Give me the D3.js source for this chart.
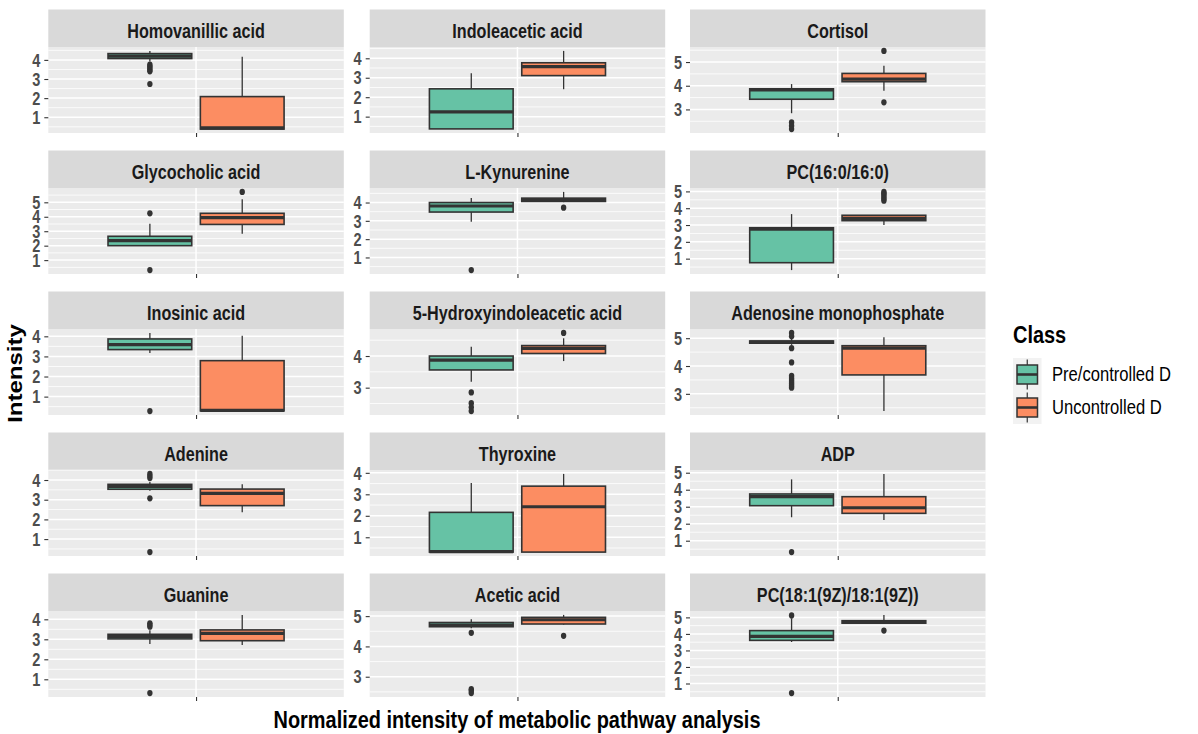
<!DOCTYPE html>
<html>
<head>
<meta charset="utf-8">
<script src="https://cdn.jsdelivr.net/npm/d3@7"></script>
<style>
  body { margin: 0; background: #ffffff; }
  svg { display: block; }
</style>
</head>
<body>
<svg id="chart" width="1198" height="734"></svg>
<script>
// Metabolites shown as facets (row by row)
const metabolites = [
  "Homovanillic acid", "Indoleacetic acid", "Cortisol",
  "Glycocholic acid", "L-Kynurenine", "PC(16:0/16:0)",
  "Inosinic acid", "5-Hydroxyindoleacetic acid", "Adenosine monophosphate",
  "Adenine", "Thyroxine", "ADP",
  "Guanine", "Acetic acid", "PC(18:1(9Z)/18:1(9Z))"
];

const classes = ["Pre/controlled D", "Uncontrolled D"];
const classColors = ["#66C2A5", "#FC8D62"];

// Box summaries per metabolite: [lower whisker, Q1, median, Q3, upper whisker]
const preStats = [
  [3.92, 4.07, 4.20, 4.33, 4.47],
  [0.36, 0.37, 1.25, 2.43, 3.23],
  [2.84, 3.43, 3.82, 3.87, 4.07],
  [1.97, 2.00, 2.35, 2.65, 3.52],
  [2.95, 3.48, 3.81, 4.00, 4.25],
  [0.32, 0.76, 2.76, 2.84, 3.65],
  [3.17, 3.34, 3.59, 3.87, 4.17],
  [3.19, 3.56, 3.87, 4.00, 4.29],
  [4.76, 4.82, 4.86, 4.90, 4.97],
  [3.45, 3.53, 3.68, 3.78, 3.90],
  [0.31, 0.31, 0.33, 2.16, 3.53],
  [2.38, 3.06, 3.59, 3.75, 4.61],
  [2.77, 3.02, 3.15, 3.25, 3.45],
  [4.60, 4.65, 4.70, 4.79, 4.90],
  [3.51, 3.61, 3.85, 4.20, 4.95]
];
const uncStats = [
  [0.38, 0.38, 0.44, 2.08, 4.17],
  [2.41, 3.11, 3.57, 3.77, 4.38],
  [3.79, 4.17, 4.28, 4.52, 4.84],
  [2.82, 3.47, 3.94, 4.24, 5.22],
  [4.02, 4.06, 4.15, 4.24, 4.58],
  [3.00, 3.26, 3.40, 3.58, 3.60],
  [0.28, 0.29, 0.32, 2.79, 4.03],
  [3.84, 4.08, 4.24, 4.33, 4.56],
  [2.38, 3.68, 4.64, 4.73, 5.03],
  [2.36, 2.70, 3.32, 3.54, 3.78],
  [0.31, 0.31, 2.42, 3.38, 3.95],
  [2.22, 2.61, 2.94, 3.59, 4.93],
  [2.72, 2.93, 3.30, 3.47, 4.22],
  [4.72, 4.74, 4.88, 4.96, 5.04],
  [4.60, 4.65, 4.72, 4.80, 5.15]
];

// Outlying observations per metabolite
const preOutliers = [
  [3.75, 3.66, 3.57, 3.48, 3.40, 2.74],
  [],
  [2.45, 2.31, 2.17],
  [4.24, 0.31],
  [0.31],
  [],
  [0.28],
  [2.85, 2.51, 2.38, 2.26],
  [5.19, 5.07, 4.64, 4.13, 3.65, 3.57, 3.50, 3.43, 3.36, 3.29, 3.22],
  [4.31, 4.20, 4.10, 3.07, 0.34],
  [],
  [0.33],
  [3.80, 3.72, 3.63, 0.31],
  [4.45, 2.59, 2.54, 2.46],
  [5.12, 0.42]
];
const uncOutliers = [
  [],
  [],
  [5.47, 3.30],
  [5.72],
  [3.72],
  [4.97, 4.88, 4.78, 4.66, 4.55, 4.45],
  [],
  [4.73],
  [],
  [],
  [],
  [],
  [],
  [4.35],
  [4.20]
];

// y-axis break labels per facet
const yTicks = [
  [1, 2, 3, 4], [1, 2, 3, 4], [3, 4, 5],
  [1, 2, 3, 4, 5], [1, 2, 3, 4], [1, 2, 3, 4, 5],
  [1, 2, 3, 4], [3, 4], [3, 4, 5],
  [1, 2, 3, 4], [1, 2, 3, 4], [1, 2, 3, 4, 5],
  [1, 2, 3, 4], [3, 4, 5], [1, 2, 3, 4, 5]
];

const xTitle = "Normalized intensity of metabolic pathway analysis";
const yTitle = "Intensity";
const legendTitle = "Class";

// ---- layout ----
const colX = [48.3, 369.7, 690];
const panelW = 295.5;
const rowTop0 = 9.5, rowStep = 141, stripH = 37.5, panelH = 86;
const SQ = 0.83;                       // narrow glyph width factor
const FONT = '"Liberation Sans", Arial, Helvetica, sans-serif';
const INK = "#333333";

const svg = d3.select("#chart");
svg.append("rect").attr("width", 1198).attr("height", 734).attr("fill", "#ffffff");

function narrowText(parent, str, x, y, opts) {
  return parent.append("text")
    .attr("transform", `translate(${x},${y}) scale(${SQ},1)`)
    .attr("font-family", FONT)
    .attr("font-size", opts.size)
    .attr("font-weight", opts.weight || "normal")
    .attr("fill", opts.fill || "#000000")
    .attr("text-anchor", opts.anchor || "start")
    .text(str);
}

const xBand = d3.scaleLinear().domain([-0.6, 0.6]).range([0, panelW]);
const dodge = [-0.1875, 0.1875];
const halfW = 0.17;

metabolites.forEach((name, i) => {
  const col = i % 3, row = Math.floor(i / 3);
  const px = colX[col];
  const top = rowTop0 + row * rowStep;
  const py = top + stripH;

  const groups = [
    { stats: preStats[i], out: preOutliers[i], color: classColors[0], off: dodge[0] },
    { stats: uncStats[i], out: uncOutliers[i], color: classColors[1], off: dodge[1] }
  ];
  const allVals = groups.flatMap(g => g.stats.concat(g.out));
  const lo = d3.min(allVals), hi = d3.max(allVals);
  const pad = (hi - lo) * 0.05;
  const y = d3.scaleLinear().domain([lo - pad, hi + pad]).range([panelH, 0]);

  // strip
  svg.append("rect").attr("x", px).attr("y", top).attr("width", panelW).attr("height", stripH)
    .attr("fill", "#D9D9D9");
  narrowText(svg, name, px + panelW / 2, top + 28.8,
    { size: 19.5, weight: "bold", fill: "#1A1A1A", anchor: "middle" });

  const g = svg.append("g").attr("transform", `translate(${px},${py})`);
  g.append("rect").attr("width", panelW).attr("height", panelH).attr("fill", "#EBEBEB");

  // grid lines
  const [d0, d1] = y.domain();
  const minor = d3.range(Math.floor(d0) + 0.5, d1, 1).filter(v => v > d0 && v < d1);
  g.selectAll("line.minor").data(minor).join("line")
    .attr("x1", 0).attr("x2", panelW)
    .attr("y1", d => y(d)).attr("y2", d => y(d))
    .attr("stroke", "#ffffff").attr("stroke-width", 0.8);
  g.selectAll("line.major").data(yTicks[i]).join("line")
    .attr("x1", 0).attr("x2", panelW)
    .attr("y1", d => y(d)).attr("y2", d => y(d))
    .attr("stroke", "#ffffff").attr("stroke-width", 1.5);
  g.append("line").attr("x1", xBand(0)).attr("x2", xBand(0)).attr("y1", 0).attr("y2", panelH)
    .attr("stroke", "#ffffff").attr("stroke-width", 1.5);

  // boxes
  groups.forEach(gr => {
    const [lw, q1, md, q3, uw] = gr.stats;
    const cx = xBand(gr.off);
    const bx0 = xBand(gr.off - halfW), bx1 = xBand(gr.off + halfW);
    g.selectAll(null).data(gr.out).join("ellipse")
      .attr("cx", cx).attr("cy", d => y(d)).attr("rx", 2.7).attr("ry", 3.1)
      .attr("fill", INK);
    g.append("line").attr("x1", cx).attr("x2", cx).attr("y1", y(uw)).attr("y2", y(q3))
      .attr("stroke", INK).attr("stroke-width", 1.3);
    g.append("line").attr("x1", cx).attr("x2", cx).attr("y1", y(q1)).attr("y2", y(lw))
      .attr("stroke", INK).attr("stroke-width", 1.3);
    g.append("rect").attr("x", bx0).attr("width", bx1 - bx0)
      .attr("y", y(q3)).attr("height", Math.max(0, y(q1) - y(q3)))
      .attr("fill", gr.color).attr("stroke", INK).attr("stroke-width", 1.6);
    g.append("line").attr("x1", bx0).attr("x2", bx1).attr("y1", y(md)).attr("y2", y(md))
      .attr("stroke", INK).attr("stroke-width", 3.2);
  });

  // y axis
  const ya = g.append("g").call(
    d3.axisLeft(y).tickValues(yTicks[i]).tickFormat(d3.format("d")).tickSize(4).tickPadding(0));
  ya.select(".domain").remove();
  ya.selectAll(".tick line").attr("stroke", INK).attr("stroke-width", 1.1);
  ya.selectAll(".tick text")
    .attr("x", null).attr("dy", null)
    .attr("transform", `translate(-8,6.2) scale(${SQ},1)`)
    .attr("font-family", FONT).attr("font-size", 17.5).attr("font-weight", "bold")
    .attr("fill", "#4D4D4D").attr("text-anchor", "end");

  // x axis (single unlabeled category)
  const xa = g.append("g").attr("transform", `translate(0,${panelH})`)
    .call(d3.axisBottom(xBand).tickValues([0]).tickSize(4).tickFormat(""));
  xa.select(".domain").remove();
  xa.selectAll(".tick line").attr("stroke", INK).attr("stroke-width", 1.1);
});

// axis titles
narrowText(svg, xTitle, 517, 728, { size: 24, weight: "bold", anchor: "middle" });
svg.append("text")
  .attr("transform", `translate(22,373.5) scale(${SQ},1) rotate(-90)`)
  .attr("font-family", FONT).attr("font-size", 24).attr("font-weight", "bold")
  .attr("text-anchor", "middle").attr("fill", "#000000").text(yTitle);

// legend
narrowText(svg, legendTitle, 1013, 343, { size: 24, weight: "bold" });
const keyTop = [358, 391], keyH = 33, keyX = 1013, keyW = 28.5;
classes.forEach((c, k) => {
  const t = keyTop[k], cy = t + keyH / 2;
  svg.append("rect").attr("x", keyX).attr("y", t).attr("width", keyW).attr("height", keyH)
    .attr("fill", "#F2F2F2");
  svg.append("line").attr("x1", keyX + keyW / 2).attr("x2", keyX + keyW / 2)
    .attr("y1", cy - 15).attr("y2", cy + 15).attr("stroke", INK).attr("stroke-width", 1.2);
  svg.append("rect").attr("x", keyX + 4).attr("y", cy - 9.5).attr("width", keyW - 8).attr("height", 19)
    .attr("fill", classColors[k]).attr("stroke", INK).attr("stroke-width", 1.5);
  svg.append("line").attr("x1", keyX + 4).attr("x2", keyX + keyW - 4)
    .attr("y1", cy).attr("y2", cy).attr("stroke", INK).attr("stroke-width", 2.6);
  narrowText(svg, c, 1052, cy + 6.8, { size: 20, fill: "#000000" });
});
</script>
</body>
</html>
